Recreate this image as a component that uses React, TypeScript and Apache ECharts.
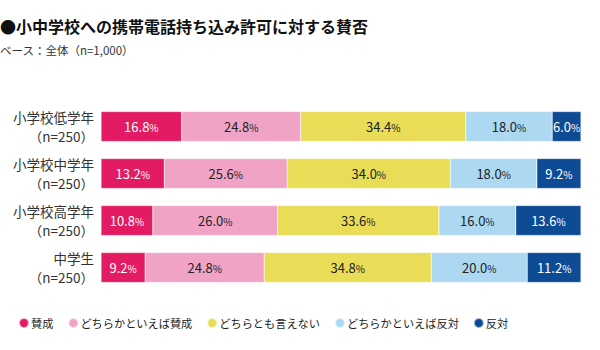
import React, { useEffect, useRef } from "react";
import * as echarts from "echarts";

const categories = ["小学校低学年\n（n=250）", "小学校中学年\n（n=250）", "小学校高学年\n（n=250）", "中学生\n（n=250）"];
const seriesNames = ["賛成", "どちらかといえば賛成", "どちらとも言えない", "どちらかといえば反対", "反対"];
const approve = [16.8, 13.2, 10.8, 9.2];
const ratherApprove = [24.8, 25.6, 26.0, 24.8];
const neutral = [34.4, 34.0, 33.6, 34.8];
const ratherOppose = [18.0, 18.0, 16.0, 20.0];
const oppose = [6.0, 9.2, 13.6, 11.2];
const colors = ["#e31b62", "#f1a3c5", "#e9dd58", "#acd9f1", "#0e4b95"];
const labelColors = ["#ffffff", "#222222", "#222222", "#222222", "#ffffff"];

const FONT = "'Noto Sans CJK JP', 'Noto Sans', sans-serif";

export default function App() {
  const ref = useRef<HTMLDivElement>(null);
  useEffect(() => {
    const chart = echarts.init(ref.current!, null, { renderer: "svg" });
    const data = [approve, ratherApprove, neutral, ratherOppose, oppose];
    chart.setOption({
      animation: false,
      textStyle: { fontFamily: FONT },
      graphic: [
        {
          type: "text",
          x: 0,
          y: 18,
          style: {
            text: "●小中学校への携帯電話持ち込み許可に対する賛否",
            font: `bold 16px ${FONT}`,
            fill: "#111",
            align: "left",
            verticalAlign: "top",
          },
        },
        {
          type: "text",
          x: 0,
          y: 44,
          style: {
            text: "ベース：全体（n=1,000）",
            font: `11.5px ${FONT}`,
            fill: "#333",
            align: "left",
            verticalAlign: "top",
          },
        },
      ],
      legend: {
        top: 317,
        left: 18,
        padding: 0,
        itemGap: 14,
        icon: "circle",
        itemWidth: 10,
        itemHeight: 10,
        textStyle: { fontSize: 11.2, color: "#222", fontFamily: FONT, padding: [0, 0, 0, -3] },
        data: seriesNames,
      },
      grid: { left: 101, right: 19, top: 103, bottom: 59 },
      xAxis: { type: "value", min: 0, max: 100, show: false },
      yAxis: {
        type: "category",
        inverse: true,
        data: categories,
        axisLine: { show: false },
        axisTick: { show: false },
        axisLabel: {
          fontSize: 13.5,
          color: "#333",
          lineHeight: 19,
          align: "right",
          margin: 7,
          fontFamily: FONT,
        },
      },
      series: seriesNames.map((name, i) => ({
        name,
        type: "bar",
        stack: "total",
        barWidth: 30,
        data: data[i],
        itemStyle: { color: colors[i], borderColor: "rgba(255,255,255,0.6)", borderWidth: 0.5 },
        label: {
          show: true,
          position: "inside",
          formatter: (p: any) => `{v|${p.value.toFixed(1)}}{p|%}`,
          rich: {
            v: { fontSize: 13, color: labelColors[i], fontFamily: FONT },
            p: { fontSize: 10, color: labelColors[i], fontFamily: FONT, padding: [2, 0, 0, 0] },
          },
        },
      })),
    });
    return () => chart.dispose();
  }, []);
  return (
    <div style={{ position: "absolute", left: 0, top: 0, width: 600, height: 350 }}>
      <div ref={ref} style={{ width: 600, height: 350 }} />
    </div>
  );
}
